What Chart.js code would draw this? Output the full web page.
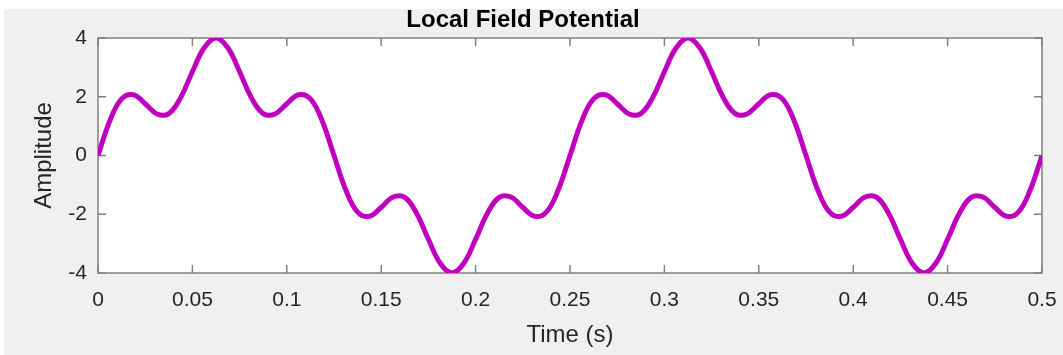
<!DOCTYPE html>
<html>
<head>
<meta charset="utf-8">
<script src="https://cdn.jsdelivr.net/npm/chart.js@4"></script>
<style>
  html, body { margin: 0; padding: 0; background: #ffffff; }
  #frame { position: absolute; left: 4px; top: 9px; width: 1059px; height: 346px; background: #f0f0f0; }
</style>
</head>
<body>
<div id="frame"><canvas id="lfp" width="1059" height="346"></canvas></div>
<script>
let timeS = [0, 0.00625, 0.0125, 0.01875, 0.025, 0.03125, 0.0375, 0.04375, 0.05, 0.05625,
  0.0625, 0.06875, 0.075, 0.08125, 0.0875, 0.09375, 0.1, 0.10625, 0.1125, 0.11875,
  0.125, 0.13125, 0.1375, 0.14375, 0.15, 0.15625, 0.1625, 0.16875, 0.175, 0.18125,
  0.1875, 0.19375, 0.2, 0.20625, 0.2125, 0.21875, 0.225, 0.23125, 0.2375, 0.24375,
  0.25, 0.25625, 0.2625, 0.26875, 0.275, 0.28125, 0.2875, 0.29375, 0.3, 0.30625,
  0.3125, 0.31875, 0.325, 0.33125, 0.3375, 0.34375, 0.35, 0.35625, 0.3625, 0.36875,
  0.375, 0.38125, 0.3875, 0.39375, 0.4, 0.40625, 0.4125, 0.41875, 0.425, 0.43125,
  0.4375, 0.44375, 0.45, 0.45625, 0.4625, 0.46875, 0.475, 0.48125, 0.4875, 0.49375, 0.5];

let amplitude = [0, 1.176, 1.927, 2.069, 1.763, 1.414, 1.427, 1.966, 2.853, 3.670,
  4, 3.670, 2.853, 1.966, 1.427, 1.414, 1.763, 2.069, 1.927, 1.176,
  0, -1.176, -1.927, -2.069, -1.763, -1.414, -1.427, -1.966, -2.853, -3.670,
  -4, -3.670, -2.853, -1.966, -1.427, -1.414, -1.763, -2.069, -1.927, -1.176,
  0, 1.176, 1.927, 2.069, 1.763, 1.414, 1.427, 1.966, 2.853, 3.670,
  4, 3.670, 2.853, 1.966, 1.427, 1.414, 1.763, 2.069, 1.927, 1.176,
  0, -1.176, -1.927, -2.069, -1.763, -1.414, -1.427, -1.966, -2.853, -3.670,
  -4, -3.670, -2.853, -1.966, -1.427, -1.414, -1.763, -2.069, -1.927, -1.176, 0];

let xTicks = [0, 0.05, 0.1, 0.15, 0.2, 0.25, 0.3, 0.35, 0.4, 0.45, 0.5];
let yTicks = [-4, -2, 0, 2, 4];

let axisColor = "#808080";
let labelColor = "#262626";
let fontFamily = "'Liberation Sans', Arial, Helvetica, sans-serif";

// matlab-like box: white plot area, border, inward ticks on all four sides
const boxPlugin = {
  id: "matlabBox",
  beforeDatasetsDraw(chart) {
    const { ctx, chartArea: a, scales } = chart;
    ctx.save();
    ctx.fillStyle = "#ffffff";
    ctx.fillRect(a.left, a.top, a.right - a.left, a.bottom - a.top);
    ctx.strokeStyle = axisColor;
    ctx.lineWidth = 1.5;
    const len = 8;
    ctx.beginPath();
    xTicks.forEach((v) => {
      const px = scales.x.getPixelForValue(v);
      ctx.moveTo(px, a.bottom); ctx.lineTo(px, a.bottom - len);
      ctx.moveTo(px, a.top); ctx.lineTo(px, a.top + len);
    });
    yTicks.forEach((v) => {
      const py = scales.y.getPixelForValue(v);
      ctx.moveTo(a.left, py); ctx.lineTo(a.left + len, py);
      ctx.moveTo(a.right, py); ctx.lineTo(a.right - len, py);
    });
    ctx.stroke();
    ctx.strokeRect(a.left, a.top, a.right - a.left, a.bottom - a.top);
    ctx.restore();
  },
};

const ctx = document.getElementById("lfp").getContext("2d");
const chart = new Chart(ctx, {
  type: "line",
  data: {
    datasets: [
      {
        data: timeS.map((t, i) => ({ x: t, y: amplitude[i] })),
        borderColor: "#bf00bf",
        borderWidth: 5,
        pointRadius: 0,
        tension: 0.4,
        fill: false,
      },
    ],
  },
  options: {
    responsive: false,
    animation: false,
    layout: { padding: { left: 0, right: 21, top: 0, bottom: 0 } },
    plugins: {
      legend: { display: false },
      tooltip: { enabled: false },
      title: {
        display: true,
        text: "Local Field Potential",
        color: "#000000",
        font: { family: fontFamily, size: 24, weight: "bold", lineHeight: 0.9 },
        padding: { top: 0.2, bottom: 7.2 },
      },
    },
    scales: {
      x: {
        type: "linear",
        min: 0,
        max: 0.5,
        afterBuildTicks: (s) => { s.ticks = xTicks.map((v) => ({ value: v })); },
        afterFit: (s) => { s.height = 82; s.paddingLeft = 0; s.paddingRight = 0; },
        border: { display: false },
        grid: { display: false, drawTicks: false },
        ticks: {
          color: labelColor,
          padding: 14.4,
          maxRotation: 0,
          font: { family: fontFamily, size: 21 },
          callback: (v) => String(parseFloat(v.toFixed(2))),
        },
        title: {
          display: true,
          text: "Time (s)",
          color: labelColor,
          font: { family: fontFamily, size: 24 },
          padding: { top: 0, bottom: 5 },
        },
      },
      y: {
        min: -4,
        max: 4,
        afterBuildTicks: (s) => { s.ticks = yTicks.map((v) => ({ value: v })); },
        afterFit: (s) => { s.width = 94; },
        border: { display: false },
        grid: { display: false, drawTicks: false },
        ticks: {
          color: labelColor,
          padding: 11,
          font: { family: fontFamily, size: 21 },
        },
        title: {
          display: true,
          text: "Amplitude",
          color: labelColor,
          font: { family: fontFamily, size: 24 },
          padding: { top: 26 },
        },
      },
    },
  },
  plugins: [boxPlugin],
});
</script>
</body>
</html>
